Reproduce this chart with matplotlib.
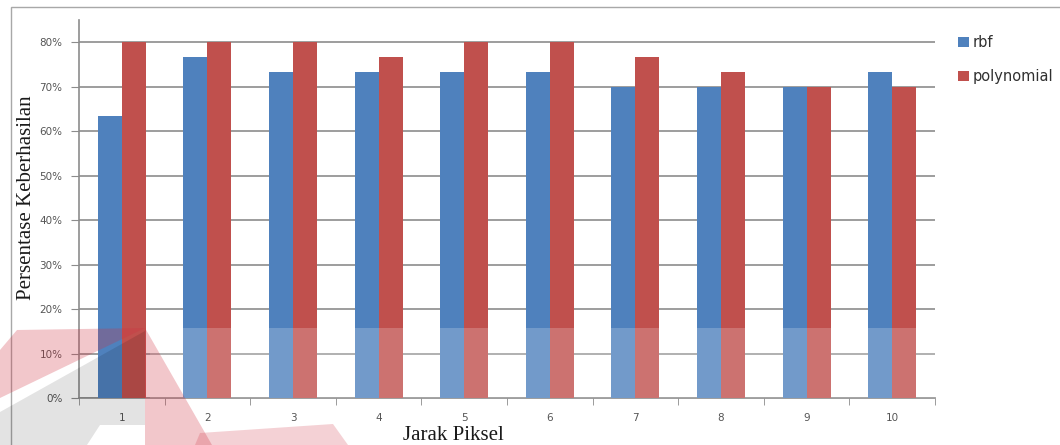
import matplotlib
matplotlib.use("Agg")
import matplotlib.pyplot as plt
from matplotlib.patches import Rectangle, Polygon
from matplotlib.ticker import FuncFormatter, FixedLocator
import numpy as np

# Data
categories = ["1", "2", "3", "4", "5", "6", "7", "8", "9", "10"]
rbf = [63.33, 76.67, 73.33, 73.33, 73.33, 73.33, 70.0, 70.0, 70.0, 73.33]
polynomial = [80.0, 80.0, 80.0, 76.67, 80.0, 80.0, 76.67, 73.33, 70.0, 70.0]
series_names = ["rbf", "polynomial"]
y_ticks = [0, 10, 20, 30, 40, 50, 60, 70, 80]

BLUE = "#4F81BD"
RED = "#C0504D"
GRID = "#8C8C8C"
TICK_TEXT = "#555555"

W, H = 1060, 445
fig = plt.figure(figsize=(W / 100, H / 100), dpi=100)


def fx(px):
    return px / W


def fy(py):
    return 1 - py / H


# Plot area
ax = fig.add_axes([fx(79), fy(398), fx(935) - fx(79), fy(20) - fy(398)])
x = np.arange(len(categories))
bw = 0.28
ax.bar(x - bw / 2, rbf, width=bw, color=BLUE, zorder=3, label=series_names[0])
ax.bar(x + bw / 2, polynomial, width=bw, color=RED, zorder=3, label=series_names[1])

ax.set_xlim(-0.5, len(categories) - 0.5)
ax.set_ylim(0, 85)
ax.set_yticks(y_ticks)
ax.yaxis.set_major_formatter(FuncFormatter(lambda v, p: f"{int(v)}%"))
ax.yaxis.grid(True, color=GRID, linewidth=1.2, zorder=0)
ax.set_axisbelow(True)

ax.set_xticks(x)
ax.set_xticklabels(categories)
ax.xaxis.set_minor_locator(FixedLocator(np.arange(-0.5, len(categories), 1.0)))
ax.tick_params(axis="x", which="major", length=0, pad=11, labelsize=7.5, labelcolor=TICK_TEXT)
ax.tick_params(axis="x", which="minor", length=5, color=GRID, direction="out")
ax.tick_params(axis="y", which="major", length=6, color=GRID, pad=6, labelsize=7.5, labelcolor=TICK_TEXT)

for side in ("top", "right"):
    ax.spines[side].set_visible(False)
for side in ("left", "bottom"):
    ax.spines[side].set_color(GRID)
    ax.spines[side].set_linewidth(1.2)

serif = ["Liberation Serif", "DejaVu Serif"]
fig.text(fx(27), fy(198), "Persentase Keberhasilan", rotation=90, ha="center", va="center",
         fontsize=15, family=serif, color="#1a1a1a")
fig.text(fx(453), fy(436), "Jarak Piksel", ha="center", va="center",
         fontsize=15, family=serif, color="#1a1a1a")

# Legend
leg = ax.legend(loc="upper left", bbox_to_anchor=(fx(958), fy(35)), bbox_transform=fig.transFigure,
                frameon=False, handlelength=0.75, handleheight=0.75, handletextpad=0.25,
                labelspacing=1.3, fontsize=10.5, borderaxespad=0, borderpad=0)
for t in leg.get_texts():
    t.set_color("#303030")

# Chart frame
fig.add_artist(Rectangle((fx(11), fy(460)), fx(1070) - fx(11), fy(7) - fy(460),
                         transform=fig.transFigure, fill=False, edgecolor="#A8A8A8",
                         linewidth=1.0, zorder=1))

# Overlay mark along the lower edge
def poly(points, **kw):
    pts = [(fx(a), fy(b)) for a, b in points]
    fig.add_artist(Polygon(pts, closed=True, transform=fig.transFigure, linewidth=0, zorder=20, **kw))


poly([(150, 328), (935, 328), (935, 398), (150, 398)], facecolor="white", alpha=0.2)
poly([(0, 350), (17, 330), (145, 328), (0, 398)], facecolor="#D03040", alpha=0.27)
poly([(145, 331), (0, 412), (0, 445), (87, 445), (100, 425), (145, 425)], facecolor="black", alpha=0.11)
poly([(145, 328), (145, 445), (212, 445)], facecolor="#D03040", alpha=0.27)
poly([(200, 433), (333, 424), (348, 445), (195, 445)], facecolor="#D03040", alpha=0.22)

fig.savefig("out.png", dpi=100)
